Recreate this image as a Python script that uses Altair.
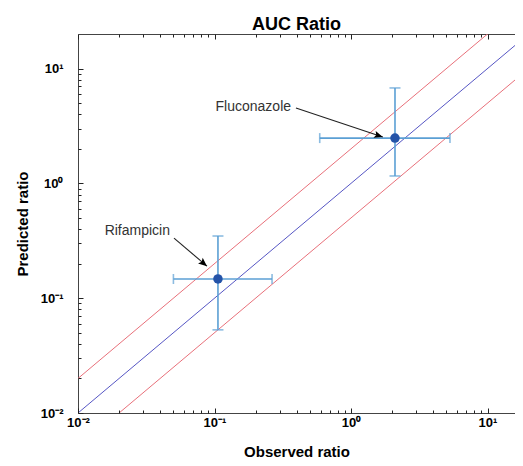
import altair as alt
import pandas as pd

# ---- data ----
drugs = ["Rifampicin", "Fluconazole"]
observed = [0.106, 2.10]
predicted = [0.147, 2.48]
obs_lo = [0.050, 0.59]
obs_hi = [0.264, 5.31]
pred_lo = [0.053, 1.16]
pred_hi = [0.348, 6.78]

line_x = [0.01, 20]
unity_y = [0.01, 20]
upper_y = [0.02, 40]
lower_y = [0.005, 10]

label_x = [0.048, 0.370]
label_y = [0.385, 4.63]
arrow_x0 = [0.0505, 0.395]
arrow_y0 = [0.334, 4.54]
arrow_x1 = [0.0881, 1.71]
arrow_y1 = [0.190, 2.53]
arrow_angle = [130, 108]

major_ticks = [0.01, 0.1, 1, 10]
minor_ticks = [0.02, 0.03, 0.04, 0.05, 0.06, 0.07, 0.08, 0.09,
               0.2, 0.3, 0.4, 0.5, 0.6, 0.7, 0.8, 0.9,
               2, 3, 4, 5, 6, 7, 8, 9]

# ---- tables ----
pts = pd.DataFrame(dict(drug=drugs, obs=observed, pred=predicted,
                        olo=obs_lo, ohi=obs_hi, plo=pred_lo, phi=pred_hi))
lines = pd.DataFrame({
    "x": line_x * 3,
    "y": unity_y + upper_y + lower_y,
    "series": ["unity"] * 2 + ["upper"] * 2 + ["lower"] * 2,
})
ann = pd.DataFrame(dict(drug=drugs, lx=label_x, ly=label_y, x0=arrow_x0, y0=arrow_y0,
                        x1=arrow_x1, y1=arrow_y1, ang=arrow_angle))

FONT = "Liberation Sans"
xs = alt.Scale(type="log", domain=[0.01, 15.9])
ys = alt.Scale(type="log", domain=[0.01, 20])
label_expr = ("datum.value == 0.01 ? '10⁻²' : datum.value == 0.1 ? '10⁻¹' : "
              "datum.value == 1 ? '10⁰' : '10¹'")

x_lab = alt.Axis(values=major_ticks, labelExpr=label_expr, orient="bottom", ticks=False,
                 domain=False, grid=False, labelFont=FONT, labelFontWeight="bold",
                 labelFontSize=13, labelColor="black", labelPadding=3, labelFlush=False,
                 title="Observed ratio", titleFont=FONT, titleFontSize=15,
                 titleFontWeight="bold", titleColor="black", titleBaseline="middle",
                 titleY=38)
y_lab = alt.Axis(values=major_ticks, labelExpr=label_expr, orient="left", ticks=False,
                 domain=False, grid=False, labelFont=FONT, labelFontWeight="bold",
                 labelFontSize=13, labelColor="black", labelPadding=15, labelFlush=False,
                 title="Predicted ratio", titleFont=FONT, titleFontSize=15,
                 titleFontWeight="bold", titleColor="black", titleBaseline="middle",
                 titleX=-56)


def tick_axis(orient, vals, size):
    return alt.Axis(values=vals, orient=orient, labels=False, domain=False,
                    grid=False, ticks=True, tickSize=size, tickColor="#222", tickWidth=1,
                    offset=-size, zindex=1, title=None)


line_layer = alt.Chart(lines).mark_line(strokeWidth=1, clip=True).encode(
    x=alt.X("x:Q", scale=xs, axis=x_lab),
    y=alt.Y("y:Q", scale=ys, axis=y_lab),
    color=alt.Color("series:N", scale=alt.Scale(domain=["unity", "upper", "lower"],
                                                range=["#5656c4", "#e8707a", "#e8707a"]),
                    legend=None),
    detail="series:N",
)

ebar_color = "#5b9fd4"
vbar = alt.Chart(pts).mark_rule(color=ebar_color, strokeWidth=1.6).encode(
    x=alt.X("obs:Q", scale=xs, axis=tick_axis("bottom", minor_ticks, 3)),
    y=alt.Y("plo:Q", scale=ys, axis=tick_axis("left", minor_ticks, 3)),
    y2="phi:Q",
)
hbar = alt.Chart(pts).mark_rule(color=ebar_color, strokeWidth=1.6).encode(
    x=alt.X("olo:Q", scale=xs, axis=tick_axis("top", minor_ticks, 3)),
    x2="ohi:Q",
    y=alt.Y("pred:Q", scale=ys, axis=None),
)
cap_top = alt.Chart(pts).mark_tick(color=ebar_color, orient="horizontal", size=11,
                                   thickness=1.6).encode(
    x=alt.X("obs:Q", scale=xs, axis=tick_axis("bottom", major_ticks, 5)),
    y=alt.Y("phi:Q", scale=ys, axis=tick_axis("left", major_ticks, 5)))
cap_bot = alt.Chart(pts).mark_tick(color=ebar_color, orient="horizontal", size=11,
                                   thickness=1.6).encode(
    x=alt.X("obs:Q", scale=xs, axis=tick_axis("top", major_ticks, 5)),
    y=alt.Y("plo:Q", scale=ys, axis=None))
cap_l = alt.Chart(pts).mark_tick(color=ebar_color, orient="vertical", size=10,
                                 thickness=1.6).encode(
    x=alt.X("olo:Q", scale=xs, axis=None), y=alt.Y("pred:Q", scale=ys, axis=None))
cap_r = alt.Chart(pts).mark_tick(color=ebar_color, orient="vertical", size=10,
                                 thickness=1.6).encode(
    x=alt.X("ohi:Q", scale=xs, axis=None), y=alt.Y("pred:Q", scale=ys, axis=None))
dots = alt.Chart(pts).mark_point(filled=True, color="#2453a8", size=90, opacity=1).encode(
    x=alt.X("obs:Q", scale=xs, axis=None), y=alt.Y("pred:Q", scale=ys, axis=None))

shaft = alt.Chart(ann).mark_rule(color="#222", strokeWidth=1.1).encode(
    x=alt.X("x0:Q", scale=xs, axis=None), y=alt.Y("y0:Q", scale=ys, axis=None),
    x2="x1:Q", y2="y1:Q")
head = alt.Chart(ann).mark_point(
    shape="M0,0 L0.42,1 L0,0.8 L-0.42,1 Z", filled=True, color="black", size=300,
    opacity=1).encode(
    x=alt.X("x1:Q", scale=xs, axis=None), y=alt.Y("y1:Q", scale=ys, axis=None),
    angle=alt.Angle("ang:Q", scale=None))
labels = alt.Chart(ann).mark_text(align="right", baseline="middle", font=FONT,
                                  fontSize=14, color="#333", dx=-1).encode(
    x=alt.X("lx:Q", scale=xs, axis=None), y=alt.Y("ly:Q", scale=ys, axis=None),
    text="drug:N")

chart = alt.layer(line_layer, vbar, hbar, cap_top, cap_bot, cap_l, cap_r, dots,
                  shaft, head, labels).resolve_axis(x="independent", y="independent").properties(
    width=437, height=379,
    title=alt.TitleParams("AUC Ratio", font=FONT, fontSize=18, fontWeight="bold",
                          color="black", anchor="middle", offset=0),
    autosize=alt.AutoSizeParams(type="none"),
    padding={"left": 70, "top": 26, "right": 0, "bottom": 45},
).configure_view(stroke="#444", strokeWidth=1)

chart.save("out.html", embed_options={"renderer": "svg", "actions": False})
